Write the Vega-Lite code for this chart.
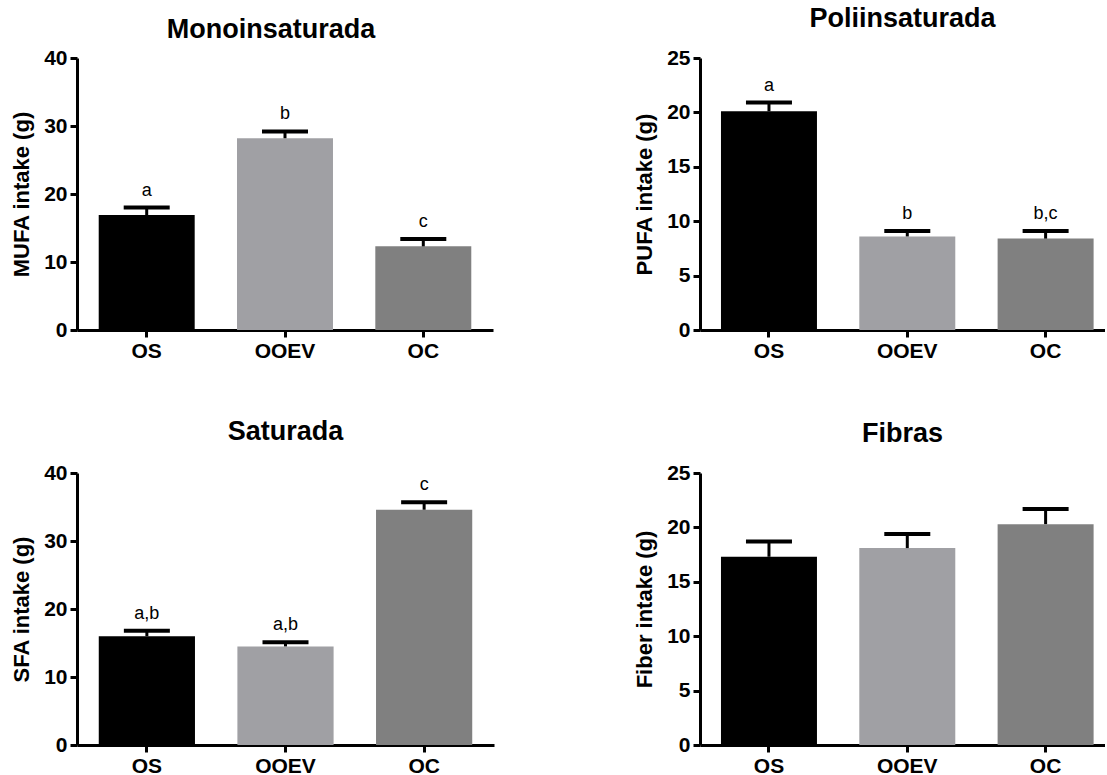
{
  "$schema": "https://vega.github.io/schema/vega-lite/v6.json",
  "padding": {"left": 10, "top": 5, "right": 0, "bottom": 0},
  "background": "white",
  "config": {
    "view": {"stroke": null},
    "font": "Liberation Sans",
    "title": {"font": "Liberation Sans", "fontWeight": "bold", "fontSize": 27, "color": "black", "anchor": "middle"},
    "axis": {
      "domainColor": "black", "domainWidth": 3,
      "tickColor": "black", "tickWidth": 3, "tickSize": 7,
      "labelFont": "Liberation Sans", "labelFontWeight": "bold", "labelFontSize": 21, "labelColor": "black", "labelPadding": 3,
      "titleFont": "Liberation Sans", "titleFontWeight": "bold", "titleFontSize": 22, "titleColor": "black", "titlePadding": 10,
      "grid": false
    },
    "axisX": {"labelAngle": 0, "labelPadding": 3, "title": null},
    "bar": {"stroke": null},
    "tick": {"opacity": 1},
    "text": {"font": "Liberation Sans", "fontSize": 18, "color": "black"}
  },
  "datasets": {
    "intake": [
      {"panel": "mono", "grupo": "OS", "media": 16.9, "sup": 18.0, "letra": "a"},
      {"panel": "mono", "grupo": "OOEV", "media": 28.2, "sup": 29.2, "letra": "b"},
      {"panel": "mono", "grupo": "OC", "media": 12.3, "sup": 13.4, "letra": "c"},
      {"panel": "poli", "grupo": "OS", "media": 20.1, "sup": 20.9, "letra": "a"},
      {"panel": "poli", "grupo": "OOEV", "media": 8.6, "sup": 9.1, "letra": "b"},
      {"panel": "poli", "grupo": "OC", "media": 8.4, "sup": 9.1, "letra": "b,c"},
      {"panel": "sat", "grupo": "OS", "media": 16.0, "sup": 16.8, "letra": "a,b"},
      {"panel": "sat", "grupo": "OOEV", "media": 14.5, "sup": 15.1, "letra": "a,b"},
      {"panel": "sat", "grupo": "OC", "media": 34.6, "sup": 35.7, "letra": "c"},
      {"panel": "fib", "grupo": "OS", "media": 17.3, "sup": 18.7, "letra": ""},
      {"panel": "fib", "grupo": "OOEV", "media": 18.1, "sup": 19.4, "letra": ""},
      {"panel": "fib", "grupo": "OC", "media": 20.3, "sup": 21.7, "letra": ""}
    ]
  },
  "data": {"name": "intake"},
  "bounds": "flush",
  "columns": 2,
  "spacing": {"row": 143, "column": 206},
  "concat": [
    {
      "width": 416, "height": 272,
      "title": {"text": "Monoinsaturada", "offset": 3, "dx": -14},
      "transform": [{"filter": "datum.panel === 'mono'"}],
      "encoding": {
        "x": {"field": "grupo", "type": "nominal", "sort": ["OS", "OOEV", "OC"], "scale": {"paddingInner": 0.306, "paddingOuter": 0.157}}
      },
      "layer": [
        {"mark": "bar", "encoding": {
          "y": {"field": "media", "type": "quantitative", "title": "MUFA intake (g)", "scale": {"domain": [0, 40], "nice": false}, "axis": {"values": [0, 10, 20, 30, 40]}},
          "color": {"field": "grupo", "type": "nominal", "scale": {"domain": ["OS", "OOEV", "OC"], "range": ["#000000", "#a0a0a4", "#808080"]}, "legend": null}}},
        {"mark": {"type": "rule", "strokeWidth": 3, "color": "black"}, "encoding": {
          "y": {"field": "media", "type": "quantitative", "title": "MUFA intake (g)"}, "y2": {"field": "sup"}}},
        {"mark": {"type": "tick", "thickness": 4, "size": 46, "color": "black", "opacity": 1}, "encoding": {
          "y": {"field": "sup", "type": "quantitative", "title": "MUFA intake (g)"}}},
        {"mark": {"type": "text", "dy": -12, "baseline": "alphabetic"}, "encoding": {
          "y": {"field": "sup", "type": "quantitative", "title": "MUFA intake (g)"}, "text": {"field": "letra"}}}
      ]
    },
    {
      "width": 405, "height": 272,
      "title": {"text": "Poliinsaturada", "offset": 14},
      "transform": [{"filter": "datum.panel === 'poli'"}],
      "encoding": {
        "x": {"field": "grupo", "type": "nominal", "sort": ["OS", "OOEV", "OC"], "scale": {"paddingInner": 0.306, "paddingOuter": 0.117, "align": 0.648}}
      },
      "layer": [
        {"mark": "bar", "encoding": {
          "y": {"field": "media", "type": "quantitative", "title": "PUFA intake (g)", "scale": {"domain": [0, 25], "nice": false}, "axis": {"values": [0, 5, 10, 15, 20, 25]}},
          "color": {"field": "grupo", "type": "nominal", "scale": {"domain": ["OS", "OOEV", "OC"], "range": ["#000000", "#a0a0a4", "#808080"]}, "legend": null}}},
        {"mark": {"type": "rule", "strokeWidth": 3, "color": "black"}, "encoding": {
          "y": {"field": "media", "type": "quantitative", "title": "PUFA intake (g)"}, "y2": {"field": "sup"}}},
        {"mark": {"type": "tick", "thickness": 4, "size": 46, "color": "black", "opacity": 1}, "encoding": {
          "y": {"field": "sup", "type": "quantitative", "title": "PUFA intake (g)"}}},
        {"mark": {"type": "text", "dy": -12, "baseline": "alphabetic"}, "encoding": {
          "y": {"field": "sup", "type": "quantitative", "title": "PUFA intake (g)"}, "text": {"field": "letra"}}}
      ]
    },
    {
      "width": 417, "height": 272,
      "title": {"text": "Saturada", "offset": 16},
      "transform": [{"filter": "datum.panel === 'sat'"}],
      "encoding": {
        "x": {"field": "grupo", "type": "nominal", "sort": ["OS", "OOEV", "OC"], "scale": {"paddingInner": 0.306, "paddingOuter": 0.157}}
      },
      "layer": [
        {"mark": "bar", "encoding": {
          "y": {"field": "media", "type": "quantitative", "title": "SFA intake (g)", "scale": {"domain": [0, 40], "nice": false}, "axis": {"values": [0, 10, 20, 30, 40]}},
          "color": {"field": "grupo", "type": "nominal", "scale": {"domain": ["OS", "OOEV", "OC"], "range": ["#000000", "#a0a0a4", "#808080"]}, "legend": null}}},
        {"mark": {"type": "rule", "strokeWidth": 3, "color": "black"}, "encoding": {
          "y": {"field": "media", "type": "quantitative", "title": "SFA intake (g)"}, "y2": {"field": "sup"}}},
        {"mark": {"type": "tick", "thickness": 4, "size": 46, "color": "black", "opacity": 1}, "encoding": {
          "y": {"field": "sup", "type": "quantitative", "title": "SFA intake (g)"}}},
        {"mark": {"type": "text", "dy": -12, "baseline": "alphabetic"}, "encoding": {
          "y": {"field": "sup", "type": "quantitative", "title": "SFA intake (g)"}, "text": {"field": "letra"}}}
      ]
    },
    {
      "width": 405, "height": 272,
      "title": {"text": "Fibras", "offset": 14},
      "transform": [{"filter": "datum.panel === 'fib'"}],
      "encoding": {
        "x": {"field": "grupo", "type": "nominal", "sort": ["OS", "OOEV", "OC"], "scale": {"paddingInner": 0.306, "paddingOuter": 0.117, "align": 0.648}}
      },
      "layer": [
        {"mark": "bar", "encoding": {
          "y": {"field": "media", "type": "quantitative", "title": "Fiber intake (g)", "scale": {"domain": [0, 25], "nice": false}, "axis": {"values": [0, 5, 10, 15, 20, 25]}},
          "color": {"field": "grupo", "type": "nominal", "scale": {"domain": ["OS", "OOEV", "OC"], "range": ["#000000", "#a0a0a4", "#808080"]}, "legend": null}}},
        {"mark": {"type": "rule", "strokeWidth": 3, "color": "black"}, "encoding": {
          "y": {"field": "media", "type": "quantitative", "title": "Fiber intake (g)"}, "y2": {"field": "sup"}}},
        {"mark": {"type": "tick", "thickness": 4, "size": 46, "color": "black", "opacity": 1}, "encoding": {
          "y": {"field": "sup", "type": "quantitative", "title": "Fiber intake (g)"}}}
      ]
    }
  ]
}
